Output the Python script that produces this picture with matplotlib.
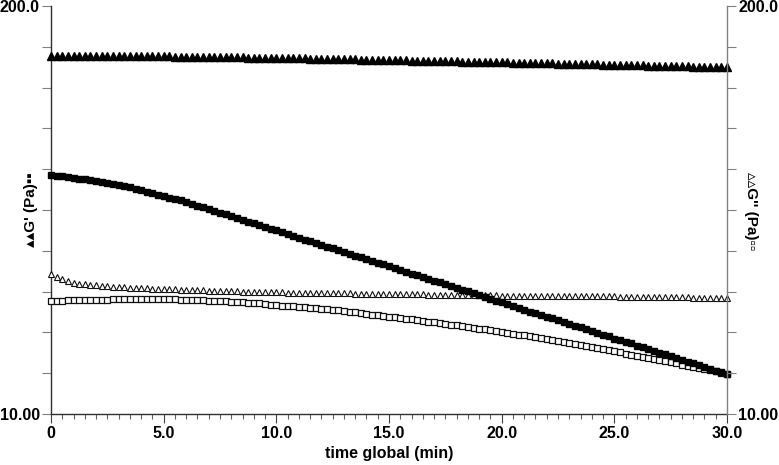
import matplotlib
matplotlib.use("Agg")
import matplotlib.pyplot as plt
from matplotlib.ticker import FixedLocator, MultipleLocator, NullFormatter
import numpy as np

plt.rcParams['font.family'] = ['Liberation Sans', 'DejaVu Sans']
plt.rcParams['font.weight'] = 'bold'

# sample times (min)
time_min = [
    0.0, 0.25, 0.5, 0.75, 1.0, 1.25, 1.5, 1.75, 2.0, 2.25, 2.5, 2.75,
    3.0, 3.25, 3.5, 3.75, 4.0, 4.25, 4.5, 4.75, 5.0, 5.25, 5.5, 5.75,
    6.0, 6.25, 6.5, 6.75, 7.0, 7.25, 7.5, 7.75, 8.0, 8.25, 8.5, 8.75,
    9.0, 9.25, 9.5, 9.75, 10.0, 10.25, 10.5, 10.75, 11.0, 11.25, 11.5, 11.75,
    12.0, 12.25, 12.5, 12.75, 13.0, 13.25, 13.5, 13.75, 14.0, 14.25, 14.5, 14.75,
    15.0, 15.25, 15.5, 15.75, 16.0, 16.25, 16.5, 16.75, 17.0, 17.25, 17.5, 17.75,
    18.0, 18.25, 18.5, 18.75, 19.0, 19.25, 19.5, 19.75, 20.0, 20.25, 20.5, 20.75,
    21.0, 21.25, 21.5, 21.75, 22.0, 22.25, 22.5, 22.75, 23.0, 23.25, 23.5, 23.75,
    24.0, 24.25, 24.5, 24.75, 25.0, 25.25, 25.5, 25.75, 26.0, 26.25, 26.5, 26.75,
    27.0, 27.25, 27.5, 27.75, 28.0, 28.25, 28.5, 28.75, 29.0, 29.25, 29.5, 29.75,
    30.0,
]

# G' (Pa), filled triangles
g1_storage = [
    139.0, 139.0, 138.9, 138.9, 138.8, 138.8, 138.8, 138.7, 138.7, 138.6, 138.6, 138.6,
    138.5, 138.5, 138.4, 138.4, 138.4, 138.3, 138.3, 138.2, 138.2, 138.1, 138.0, 138.0,
    137.9, 137.8, 137.7, 137.6, 137.6, 137.5, 137.4, 137.3, 137.2, 137.2, 137.1, 137.0,
    136.9, 136.8, 136.8, 136.7, 136.6, 136.5, 136.4, 136.3, 136.2, 136.1, 136.0, 135.9,
    135.8, 135.7, 135.6, 135.4, 135.3, 135.2, 135.1, 135.0, 134.9, 134.8, 134.7, 134.6,
    134.5, 134.4, 134.3, 134.2, 134.0, 133.9, 133.8, 133.7, 133.6, 133.5, 133.3, 133.2,
    133.1, 133.0, 132.9, 132.8, 132.7, 132.5, 132.4, 132.3, 132.2, 132.1, 132.0, 131.9,
    131.7, 131.6, 131.5, 131.4, 131.3, 131.2, 131.1, 130.9, 130.8, 130.7, 130.6, 130.5,
    130.4, 130.3, 130.1, 130.0, 129.9, 129.8, 129.7, 129.5, 129.4, 129.3, 129.2, 129.1,
    129.0, 128.8, 128.7, 128.6, 128.5, 128.4, 128.2, 128.1, 128.0, 127.9, 127.8, 127.6,
    127.5,
]

# G' (Pa), filled squares
g2_storage = [
    57.8, 57.5, 57.2, 56.9, 56.6, 56.3, 56.0, 55.6, 55.3, 54.9, 54.5, 54.1,
    53.7, 53.3, 52.8, 52.3, 51.8, 51.2, 50.7, 50.1, 49.6, 49.0, 48.5, 48.0,
    47.4, 46.8, 46.2, 45.6, 45.1, 44.5, 43.9, 43.4, 42.8, 42.2, 41.7, 41.1,
    40.6, 40.1, 39.6, 39.0, 38.5, 38.0, 37.5, 37.0, 36.5, 36.0, 35.6, 35.1,
    34.6, 34.2, 33.8, 33.3, 32.9, 32.4, 32.0, 31.6, 31.2, 30.8, 30.4, 30.0,
    29.6, 29.2, 28.8, 28.4, 28.0, 27.7, 27.3, 27.0, 26.6, 26.3, 25.9, 25.6,
    25.2, 24.9, 24.6, 24.3, 23.9, 23.6, 23.3, 23.0, 22.7, 22.4, 22.1, 21.8,
    21.5, 21.2, 21.0, 20.7, 20.4, 20.2, 19.9, 19.6, 19.4, 19.1, 18.9, 18.6,
    18.4, 18.1, 17.9, 17.7, 17.4, 17.2, 17.0, 16.8, 16.5, 16.3, 16.1, 15.9,
    15.7, 15.5, 15.3, 15.1, 14.9, 14.7, 14.5, 14.3, 14.1, 13.9, 13.7, 13.6,
    13.4,
]

# G'' (Pa), open triangles
g1_loss = [
    28.0, 27.35, 26.85, 26.46, 26.17, 26.0, 25.88, 25.78, 25.69, 25.62, 25.55, 25.48,
    25.41, 25.36, 25.31, 25.27, 25.22, 25.18, 25.13, 25.09, 25.04, 25.0, 24.97, 24.93,
    24.90, 24.86, 24.83, 24.79, 24.76, 24.73, 24.69, 24.66, 24.63, 24.59, 24.56, 24.52,
    24.49, 24.47, 24.46, 24.44, 24.43, 24.41, 24.40, 24.38, 24.37, 24.35, 24.34, 24.32,
    24.31, 24.30, 24.28, 24.27, 24.25, 24.24, 24.22, 24.21, 24.19, 24.18, 24.16, 24.15,
    24.13, 24.12, 24.10, 24.09, 24.08, 24.06, 24.05, 24.04, 24.03, 24.01, 24.00, 23.99,
    23.97, 23.96, 23.95, 23.93, 23.92, 23.91, 23.90, 23.88, 23.87, 23.86, 23.85, 23.84,
    23.84, 23.83, 23.82, 23.81, 23.80, 23.79, 23.79, 23.78, 23.77, 23.76, 23.75, 23.74,
    23.74, 23.73, 23.72, 23.71, 23.70, 23.69, 23.67, 23.66, 23.65, 23.63, 23.62, 23.61,
    23.60, 23.58, 23.57, 23.56, 23.54, 23.53, 23.52, 23.50, 23.49, 23.48, 23.47, 23.45,
    23.44,
]

# G'' (Pa), open squares
g2_loss = [
    22.98, 22.99, 23.00, 23.02, 23.03, 23.05, 23.06, 23.08, 23.09, 23.13, 23.17, 23.22,
    23.26, 23.28, 23.30, 23.31, 23.33, 23.32, 23.31, 23.30, 23.29, 23.25, 23.21, 23.17,
    23.13, 23.10, 23.07, 23.04, 23.01, 22.97, 22.93, 22.88, 22.84, 22.78, 22.72, 22.65,
    22.59, 22.51, 22.43, 22.34, 22.26, 22.18, 22.10, 22.02, 21.94, 21.87, 21.80, 21.72,
    21.65, 21.56, 21.48, 21.39, 21.31, 21.20, 21.09, 20.98, 20.87, 20.76, 20.65, 20.54,
    20.43, 20.33, 20.23, 20.12, 20.02, 19.91, 19.80, 19.69, 19.58, 19.48, 19.37, 19.27,
    19.16, 19.05, 18.94, 18.82, 18.71, 18.60, 18.49, 18.37, 18.26, 18.15, 18.03, 17.92,
    17.80, 17.68, 17.56, 17.43, 17.31, 17.19, 17.07, 16.94, 16.82, 16.70, 16.57, 16.45,
    16.32, 16.20, 16.08, 15.95, 15.83, 15.71, 15.59, 15.46, 15.34, 15.22, 15.10, 14.97,
    14.85, 14.73, 14.61, 14.49, 14.37, 14.25, 14.14, 14.02, 13.90, 13.78, 13.67, 13.55,
    13.43,
]

x_ticks = [0, 5, 10, 15, 20, 25, 30]
x_tick_labels = ["0", "5.0", "10.0", "15.0", "20.0", "25.0", "30.0"]
y_min, y_max = 10.0, 200.0
y_end_labels = ["10.00", "200.0"]


def style_y_axis(axis, side):
    axis.set_yscale('log')
    axis.set_ylim(y_min, y_max)
    # rheometer software puts 10 equal (log) divisions between the limits
    ticks = [y_min * (y_max / y_min) ** (i / 10) for i in range(11)]
    axis.yaxis.set_major_locator(FixedLocator(ticks))
    axis.yaxis.set_minor_locator(FixedLocator([]))
    axis.yaxis.set_minor_formatter(NullFormatter())
    labels = [y_end_labels[0]] + [""] * 9 + [y_end_labels[1]]
    axis.set_yticklabels(labels, fontsize=11.5, fontweight='bold')
    axis.tick_params(axis='y', which='major', length=6.5, width=0.8,
                     color='#808080', pad=1.5, direction='out')
    if side == 'right':
        axis.yaxis.tick_right()


fig = plt.figure(figsize=(7.79, 4.65), dpi=100)
ax = fig.add_axes([51 / 779, 1 - 414 / 465, 676 / 779, 408 / 465])

ax.plot(time_min, g2_loss, linestyle='none', marker='s', markersize=4.0,
        markerfacecolor='white', markeredgecolor='#101010', markeredgewidth=0.9,
        clip_on=False, zorder=3)
ax.plot(time_min, g1_loss, linestyle='none', marker='^', markersize=5.0,
        markerfacecolor='white', markeredgecolor='#101010', markeredgewidth=0.8,
        clip_on=False, zorder=3)
ax.plot(time_min, g2_storage, linestyle='none', marker='s', markersize=4.9,
        color='black', clip_on=False, zorder=4)
ax.plot(time_min, g1_storage, linestyle='none', marker='^', markersize=5.2,
        color='black', clip_on=False, zorder=4)

ax.set_xlim(0, 30)
ax.set_xticks(x_ticks)
ax.set_xticklabels(x_tick_labels, fontsize=11.5, fontweight='bold')
ax.xaxis.set_minor_locator(MultipleLocator(0.5))
ax.tick_params(axis='x', which='major', length=6.5, width=0.8, color='#404040', pad=2)
ax.tick_params(axis='x', which='minor', length=3.5, width=0.8, color='#606060')
ax.set_xlabel("time global (min)", fontsize=11.5, fontweight='bold', labelpad=4)

style_y_axis(ax, 'left')

ax2 = ax.twinx()
style_y_axis(ax2, 'right')

for a in (ax, ax2):
    a.spines['top'].set_visible(False)
    a.set_facecolor('none')
ax.spines['left'].set_color('#303030')
ax.spines['bottom'].set_color('#303030')
ax.spines['right'].set_visible(False)
ax2.spines['left'].set_visible(False)
ax2.spines['bottom'].set_visible(False)
ax2.spines['right'].set_color('#808080')
for s in ('left', 'bottom'):
    ax.spines[s].set_linewidth(1.0)
ax2.spines['right'].set_linewidth(1.0)

fig.text(30.5 / 779, 1 - 210 / 465, "\u25b4\u25b4G' (Pa)\u25aa\u25aa", rotation=90,
         ha='center', va='center', fontsize=11, fontweight='bold')
fig.text(751 / 779, 1 - 211 / 465, "\u25b5\u25b5G'' (Pa)\u25ab\u25ab", rotation=270,
         ha='center', va='center', fontsize=11, fontweight='bold')

fig.savefig("out.png", dpi=100)
